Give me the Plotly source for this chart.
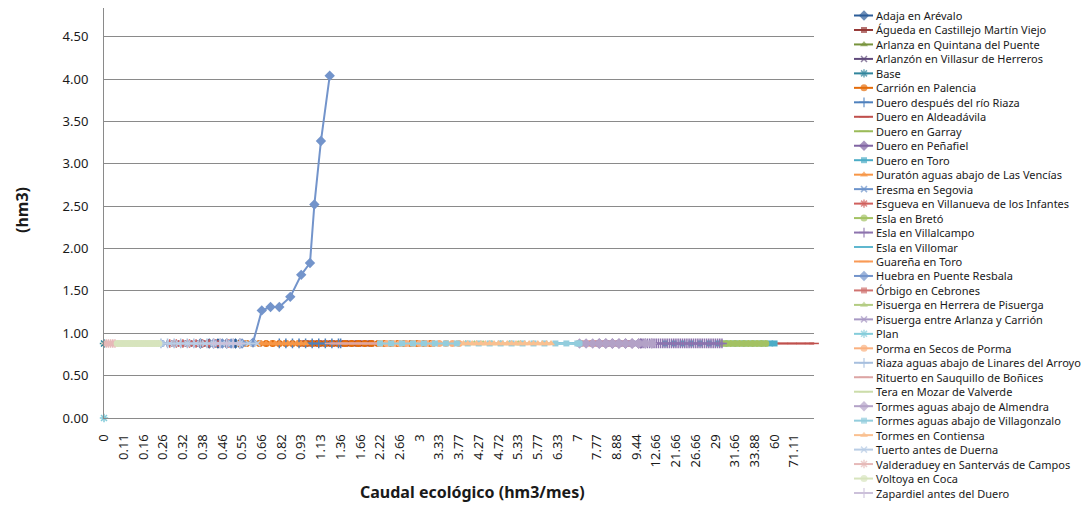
import numpy as np
import plotly.graph_objects as go

# page is shown with an 8px body margin: build the figure in page pixels, shifted by OFF
W, H = 1091, 507
OFF = 8
FW, FH = W - OFF, H - OFF

# ---------------- data ----------------
tick_labels = ["0", "0.11", "0.16", "0.26", "0.32", "0.38", "0.46", "0.55", "0.66", "0.82",
               "0.93", "1.13", "1.36", "1.66", "2.22", "2.66", "3", "3.33", "3.77", "4.27",
               "4.72", "5.33", "5.77", "6.33", "7", "7.77", "8.88", "9.44", "12.66", "21.66",
               "26.66", "29", "31.66", "33.88", "60", "71.11"]
SLOTS_PER_LABEL = 9          # categories between two labelled ticks
N_SLOTS = 325                # total number of categories on the axis

names = ["Adaja en Arévalo", "Águeda en Castillejo Martín Viejo", "Arlanza en Quintana del Puente",
         "Arlanzón en Villasur de Herreros", "Base", "Carrión en Palencia",
         "Duero después del río Riaza", "Duero en Aldeadávila", "Duero en Garray",
         "Duero en Peñafiel", "Duero en Toro", "Duratón aguas abajo de Las Vencías",
         "Eresma en Segovia", "Esgueva en Villanueva de los Infantes", "Esla en Bretó",
         "Esla en Villalcampo", "Esla en Villomar", "Guareña en Toro", "Huebra en Puente Resbala",
         "Órbigo en Cebrones", "Pisuerga en Herrera de Pisuerga", "Pisuerga entre Arlanza y Carrión",
         "Plan", "Porma en Secos de Porma", "Riaza aguas abajo de Linares del Arroyo",
         "Rituerto en Sauquillo de Boñices", "Tera en Mozar de Valverde",
         "Tormes aguas abajo de Almendra", "Tormes aguas abajo de Villagonzalo",
         "Tormes en Contiensa", "Tuerto antes de Duerna", "Valderaduey en Santervás de Campos",
         "Voltoya en Coca", "Zapardiel antes del Duero"]

# first / last category (index on the axis) of each series, spacing of its own
# categories, and its level (hm3)
series_first = [44, 90, 135, 35, 0, 62, 80, 306, 135, 226, 256, 62, 26, 30, 282, 245, 204, 108,
                None, 217, 153, 226, 0, 126, 26, 103, 1, 217, 126, 164, 26, 1, 6, 50]
series_last = [62, 122, 153, 57, 0, 150, 108, 324, 162, 245, 306, 92, 44, 57, 302, 282, 217, 162,
               None, 240, 190, 250, 0, 162, 62, 126, 25, 250, 217, 204, 70, 5, 25, 62]
series_step = [4, 2, 3, 3, 1, 3, 3, 4, 2, 3, 4, 2, 2, 3, 2, 1, 2, 3,
               None, 2, 4, 3, 1, 3, 3, 3, 2, 3, 5, 2, 4, 1, 1, 3]
series_level = [0.88, 0.88, 0.88, 0.88, 0.88, 0.88, 0.88, 0.88, 0.88, 0.88, 0.88, 0.88, 0.88,
                0.88, 0.88, 0.88, 0.88, 0.88, None, 0.88, 0.88, 0.88, 0.00, 0.88, 0.88, 0.88,
                0.88, 0.88, 0.88, 0.88, 0.88, 0.88, 0.88, 0.88]

huebra_cats = [50, 54, 58, 63, 68, 72, 76, 80, 85, 90, 94, 96, 99, 103]
huebra_vals = [0.88, 0.88, 0.88, 0.88, 0.89, 1.27, 1.31, 1.31, 1.43, 1.69, 1.83, 2.52, 3.27, 4.04]

# ---------------- styles ----------------
colors = ["#2C5D98", "#953735", "#77933C", "#604A7B", "#31859C", "#E46C0A",
          "#4F81BD", "#C0504D", "#9BBB59", "#8064A2", "#4BACC6", "#F79646",
          "#6C93CB", "#D0605D", "#A3C263", "#8D73AE", "#5FB7CF", "#F99A56",
          "#7394CB", "#D07370", "#B3CC82", "#A899C4", "#84CCDA", "#FAB07F",
          "#A7BFDE", "#DCA5A4", "#CCDDAA", "#B3A2C7", "#93CDDD", "#FAC090",
          "#B9CDE5", "#E6B9B8", "#D7E4BD", "#CCC1DA"]
marker_cycle = ["diamond", "square", "triangle-up", "x-thin-open", "asterisk-open", "circle",
                "cross-thin-open", "line-ew-open", "line-ew-open"]
marker_size = {"diamond": 8, "square": 6, "triangle-up": 7, "x-thin-open": 6,
               "asterisk-open": 7, "circle": 7, "cross-thin-open": 7, "line-ew-open": 7}

FONT = "Noto Sans"
TXT = "#1a1a1a"
GRID = "#8a8a8a"

# plot area in page pixels
PL, PR, PT, PB = 104, 814, 8, 418


def px_x(p):
    return (p - OFF) / FW


def px_y(p):
    return (FH - (p - OFF)) / FH


fig = go.Figure()

for i, name in enumerate(names):
    sym = marker_cycle[i % len(marker_cycle)]
    if name.startswith("Huebra"):
        xs, ys = huebra_cats, huebra_vals
    else:
        xs = list(range(series_first[i], series_last[i] + 1, series_step[i]))
        if xs[-1] != series_last[i]:
            xs.append(series_last[i])
        ys = [series_level[i]] * len(xs)
    fig.add_trace(go.Scatter(
        x=xs, y=ys, mode="lines+markers", name=name, showlegend=False,
        line=dict(color=colors[i], width=2),
        marker=dict(symbol=sym, size=marker_size[sym], color=colors[i],
                    line=dict(color=colors[i], width=1.5 if sym.endswith("open") else 0)),
        cliponaxis=False, xaxis="x", yaxis="y"))

# ---------------- hand-drawn legend ----------------
LEG_Y0, LEG_DY = 15.5, 14.47
for i, name in enumerate(names):
    yc = LEG_Y0 + i * LEG_DY
    sym = marker_cycle[i % len(marker_cycle)]
    fig.add_trace(go.Scatter(
        x=[854, 864, 873], y=[yc, yc, yc], mode="lines+markers", showlegend=False,
        line=dict(color=colors[i], width=2),
        marker=dict(symbol=sym, size=[0, marker_size[sym], 0], color=colors[i],
                    line=dict(color=colors[i], width=1.5 if sym.endswith("open") else 0)),
        xaxis="x2", yaxis="y2", hoverinfo="skip", cliponaxis=False))
    fig.add_annotation(x=px_x(874), y=px_y(yc), xref="paper", yref="paper",
                       text=name, showarrow=False, xanchor="left", yanchor="middle",
                       font=dict(family=FONT, size=11, color=TXT))

# axis titles
fig.add_annotation(x=px_x(472), y=px_y(492), xref="paper", yref="paper",
                   text="<b>Caudal ecológico (hm3/mes)</b>", showarrow=False,
                   xanchor="center", yanchor="middle",
                   font=dict(family=FONT, size=16, color=TXT))
fig.add_annotation(x=px_x(22), y=px_y(210), xref="paper", yref="paper",
                   text="<b>(hm3)</b>", showarrow=False, textangle=-90,
                   xanchor="center", yanchor="middle",
                   font=dict(family=FONT, size=16, color=TXT))

tickvals = [k * SLOTS_PER_LABEL for k in range(len(tick_labels))]

fig.update_layout(
    width=FW, height=FH,
    margin=dict(l=0, r=0, t=0, b=0),
    paper_bgcolor="white", plot_bgcolor="white",
    font=dict(family=FONT, size=13, color=TXT),
    showlegend=False,
    xaxis=dict(domain=[px_x(PL), px_x(PR)], range=[0, N_SLOTS - 1],
               tickmode="array", tickvals=tickvals, ticktext=tick_labels,
               tickangle=-90, showgrid=False, zeroline=False,
               showline=True, linecolor=GRID, linewidth=1,
               ticks="", ticklabelstandoff=10, automargin=False,
               tickfont=dict(family=FONT, size=13, color=TXT)),
    yaxis=dict(domain=[px_y(PB), px_y(PT)], range=[0, 4.84],
               tickmode="linear", tick0=0, dtick=0.5, tickformat=".2f",
               showgrid=True, gridcolor=GRID, gridwidth=1, zeroline=False,
               showline=True, linecolor=GRID, linewidth=1,
               ticks="", ticklabelstandoff=12, automargin=False,
               tickfont=dict(family=FONT, size=13, color=TXT)),
    xaxis2=dict(domain=[px_x(850), px_x(880)], range=[850, 880], visible=False, fixedrange=True),
    yaxis2=dict(domain=[0, 1], range=[FH + OFF, OFF], visible=False, fixedrange=True),
)

fig.write_html("out.html")
